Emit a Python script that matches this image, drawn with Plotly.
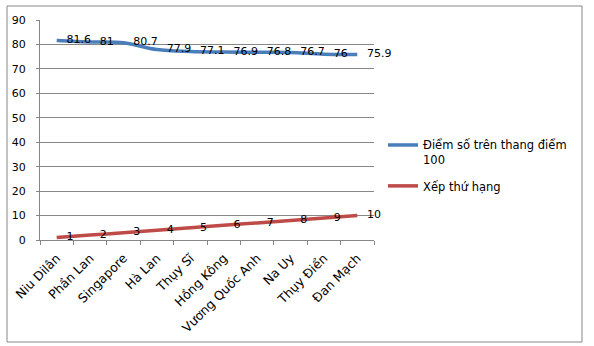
import plotly.graph_objects as go

# Countries and their scores / rankings
countries = ["Niu Dilân", "Phần Lan", "Singapore", "Hà Lan", "Thụy Sĩ",
             "Hồng Kông", "Vương Quốc Anh", "Na Uy", "Thụy Điển", "Đan Mạch"]
scores = [81.6, 81, 80.7, 77.9, 77.1, 76.9, 76.8, 76.7, 76, 75.9]
ranks = [1, 2, 3, 4, 5, 6, 7, 8, 9, 10]
y_ticks = [0, 10, 20, 30, 40, 50, 60, 70, 80, 90]

FONT = "DejaVu Sans"
GRID = "#878787"

# plot area in pixels
W, H = 594, 346
L, R, T, B = 40, 220, 20, 106
pw, ph = W - L - R, H - T - B


def px_x(x):
    return (x - L) / pw


def px_y(y):
    return (H - B - y) / ph


def fmt(v):
    return f"{v:g}"


fig = go.Figure()
fig.add_trace(go.Scatter(
    x=countries, y=scores, name="Điểm số trên thang điểm<br>100",
    mode="lines+markers+text", text=[fmt(v) for v in scores],
    textposition="middle right", cliponaxis=False,
    textfont=dict(family=FONT, size=11, color="#000000"),
    line=dict(color="#4A7EBB", width=3.5, shape="spline", smoothing=1),
    marker=dict(size=14, color="rgba(0,0,0,0)"),
    legendgroup="a",
))
fig.add_trace(go.Scatter(
    x=countries, y=ranks, name="Xếp thứ hạng",
    mode="lines+markers+text", text=[fmt(v) for v in ranks],
    textposition="middle right", cliponaxis=False,
    textfont=dict(family=FONT, size=11, color="#000000"),
    line=dict(color="#BE4B48", width=3.5, shape="spline", smoothing=1),
    marker=dict(size=14, color="rgba(0,0,0,0)"),
    legendgroup="b",
))

fig.update_layout(
    width=W, height=H,
    margin=dict(l=L, r=R, t=T, b=B, pad=0),
    paper_bgcolor="white", plot_bgcolor="white",
    font=dict(family=FONT, size=11, color="#000000"),
    showlegend=True,
    legend=dict(x=px_x(383), y=px_y(131), xanchor="left", yanchor="top",
                valign="top", tracegroupgap=8,
                font=dict(family=FONT, size=11.5, color="#000000"),
                bgcolor="rgba(0,0,0,0)", itemwidth=30),
    xaxis=dict(range=[-0.5, 9.5], tickangle=-45, tickson="boundaries",
               ticks="outside", ticklen=4, tickcolor=GRID,
               showline=True, linecolor=GRID, linewidth=1,
               showgrid=False, zeroline=False, ticklabelstandoff=5,
               tickfont=dict(family=FONT, size=12.5)),
    yaxis=dict(range=[0, 90], tickvals=y_ticks, ticks="outside", ticklen=3,
               tickcolor=GRID, showline=True, linecolor=GRID, linewidth=1,
               showgrid=True, gridcolor=GRID, gridwidth=1, zeroline=False,
               ticklabelstandoff=8,
               tickfont=dict(family=FONT, size=11)),
    shapes=[dict(type="rect", xref="paper", yref="paper",
                 x0=px_x(7), x1=px_x(582), y0=px_y(342), y1=px_y(6),
                 line=dict(color="#878787", width=1),
                 fillcolor="rgba(0,0,0,0)", layer="below")],
)

fig.write_html("out.html")
